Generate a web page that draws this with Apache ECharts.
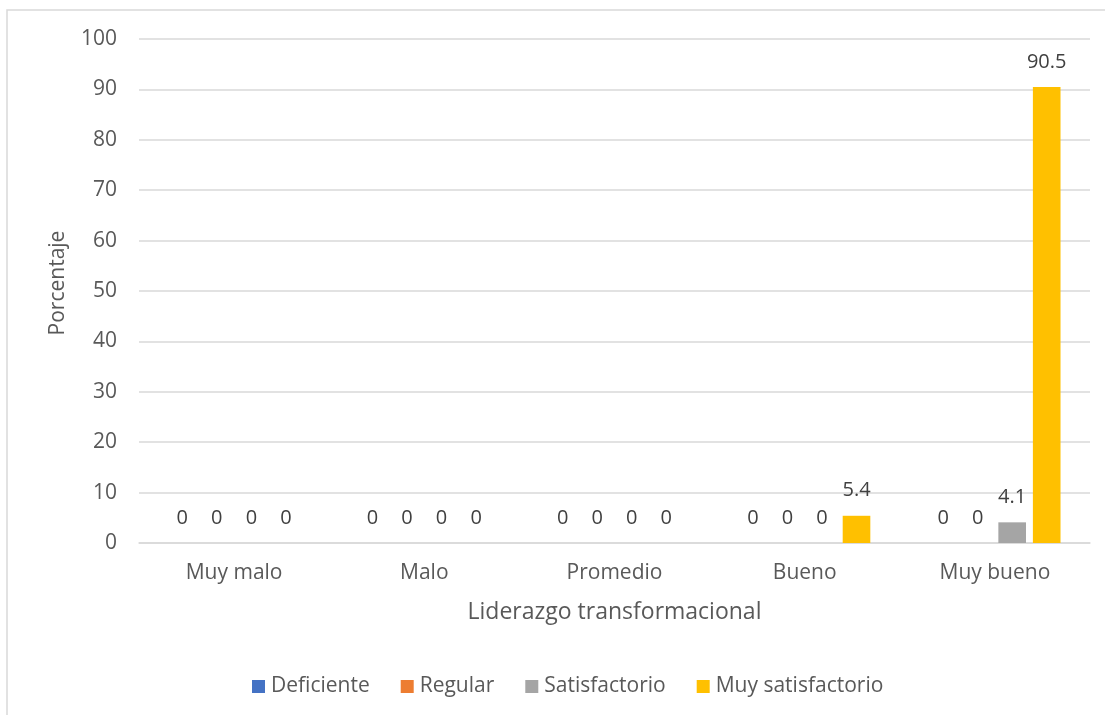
<!DOCTYPE html>
<html>
<head>
<meta charset="utf-8">
<script src="https://cdn.jsdelivr.net/npm/echarts@6/dist/echarts.min.js"></script>
<style>
  html, body { margin: 0; padding: 0; background: #fff; }
  #chart { width: 1105px; height: 715px; }
</style>
</head>
<body>
<div id="chart"></div>
<script>
// Categories on the x axis (levels of transformational leadership)
const categories = ['Muy malo', 'Malo', 'Promedio', 'Bueno', 'Muy bueno'];

// Percentages per performance level
const seriesNames = ['Deficiente', 'Regular', 'Satisfactorio', 'Muy satisfactorio'];
const deficiente = [0, 0, 0, 0, 0];
const regular = [0, 0, 0, 0, 0];
const satisfactorio = [0, 0, 0, 0, 4.1];
const muySatisfactorio = [0, 0, 0, 5.4, 90.5];
const seriesValues = [deficiente, regular, satisfactorio, muySatisfactorio];

const colors = ['#4472C4', '#ED7D31', '#A5A5A5', '#FFC000'];

const FONT = '"Open Sans", "Segoe UI", sans-serif';
const TEXT = '#595959';

const chart = echarts.init(document.getElementById('chart'), null, { renderer: 'canvas' });

// One bar series per performance level; every bar (zeros included) carries its value label
const series = seriesNames.map((name, i) => ({
  name: name,
  type: 'bar',
  data: seriesValues[i],
  itemStyle: { color: colors[i] },
  barGap: '25%',
  barCategoryGap: '31%',
  label: {
    show: true,
    position: 'top',
    distance: 15,
    color: '#404040',
    fontFamily: FONT,
    fontSize: 20,
    formatter: p => String(p.value)
  }
}));

chart.setOption({
  animation: false,
  backgroundColor: '#ffffff',
  color: colors,
  textStyle: { fontFamily: FONT },
  grid: { left: 139, right: 15, top: 39, bottom: 172, containLabel: false },
  // thin frame around the chart area
  graphic: [{
    type: 'rect',
    shape: { x: 7, y: 10, width: 1200, height: 800 },
    style: { fill: 'none', stroke: '#D9D9D9', lineWidth: 1.5 },
    silent: true,
    z: -1
  }],
  legend: {
    data: seriesNames,
    left: 247,
    top: 671,
    icon: 'rect',
    itemWidth: 13,
    itemHeight: 13,
    itemGap: 31,
    textStyle: { color: TEXT, fontFamily: FONT, fontSize: 21, padding: [0, 0, 0, 1] }
  },
  xAxis: {
    type: 'category',
    data: categories,
    name: 'Liderazgo transformacional',
    nameLocation: 'middle',
    nameGap: 58,
    nameTextStyle: { color: TEXT, fontFamily: FONT, fontSize: 23 },
    axisLine: { lineStyle: { color: '#D9D9D9', width: 1.5 } },
    axisTick: { show: false },
    axisLabel: { color: TEXT, fontFamily: FONT, fontSize: 21, margin: 20 }
  },
  yAxis: {
    type: 'value',
    min: 0,
    max: 100,
    interval: 10,
    name: 'Porcentaje',
    nameLocation: 'middle',
    nameGap: 70,
    nameTextStyle: { color: TEXT, fontFamily: FONT, fontSize: 21, padding: [0, 0, 0, 16] },
    axisLine: { show: false },
    axisTick: { show: false },
    axisLabel: { color: TEXT, fontFamily: FONT, fontSize: 21, margin: 22 },
    splitLine: { lineStyle: { color: '#D9D9D9', width: 1.5 } }
  },
  series: series
});
</script>
</body>
</html>
